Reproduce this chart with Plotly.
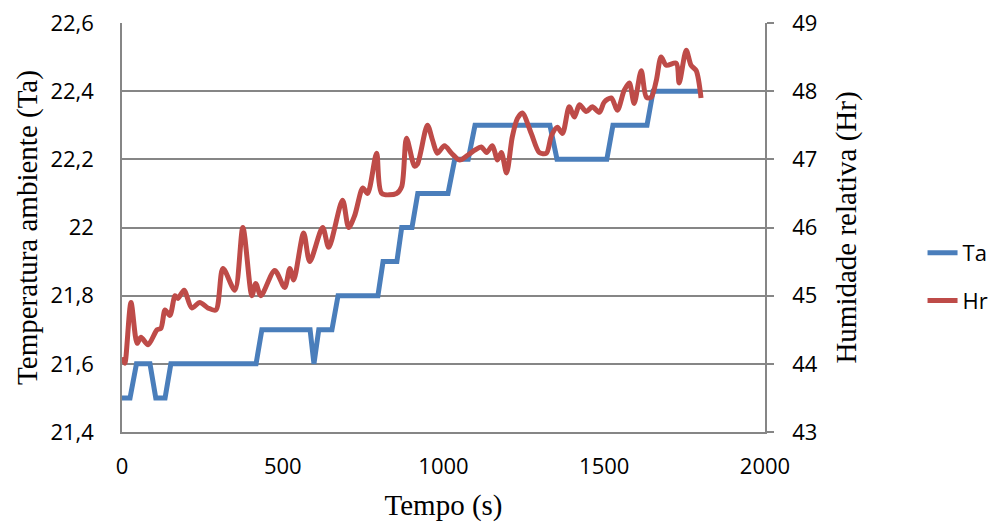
import plotly.graph_objects as go

# Temperature (Ta) samples: time (s) and value
ta_t = [0, 25, 45, 87, 105, 134, 152, 417, 435, 585, 597, 612, 653, 672, 796, 812,
        855, 870, 902, 920, 1014, 1035, 1077, 1098, 1331, 1353, 1508, 1527, 1633, 1652, 1804]
ta_v = [21.5, 21.5, 21.6, 21.6, 21.5, 21.5, 21.6, 21.6, 21.7, 21.7, 21.6, 21.7, 21.7, 21.8, 21.8, 21.9,
        21.9, 22.0, 22.0, 22.1, 22.1, 22.2, 22.2, 22.3, 22.3, 22.2, 22.2, 22.3, 22.3, 22.4, 22.4]

# Relative humidity (Hr) samples
hr_t = [3, 9, 28, 47, 59, 81, 109, 121, 134, 149, 165, 174, 193, 217, 242, 267, 292, 314, 351, 376,
        404, 416, 432, 475, 506, 522, 534, 565, 584, 624, 643, 686, 705, 724, 749, 764, 792, 808, 854,
        870, 885, 910, 919, 950, 966, 981, 1003, 1025, 1050, 1075, 1096, 1118, 1134, 1152, 1168, 1180,
        1196, 1214, 1230, 1245, 1273, 1298, 1320, 1336, 1354, 1370, 1391, 1407, 1423, 1444, 1463, 1485,
        1500, 1522, 1541, 1562, 1578, 1593, 1615, 1631, 1646, 1662, 1677, 1693, 1724, 1733, 1755, 1770,
        1786, 1801]
hr_v = [44.1, 44.01, 44.9, 44.3, 44.39, 44.28, 44.5, 44.52, 44.79, 44.71, 45.0, 44.96, 45.08, 44.82,
        44.9, 44.82, 44.79, 45.4, 45.08, 46.0, 45.0, 45.18, 45.0, 45.37, 45.12, 45.4, 45.23, 45.92, 45.5,
        46.0, 45.71, 46.4, 46.0, 46.18, 46.58, 46.5, 47.09, 46.5, 46.5, 46.6, 47.31, 46.9, 46.93, 47.5,
        47.28, 47.09, 47.2, 47.09, 46.99, 47.06, 47.13, 47.18, 47.1, 47.2, 46.99, 47.1, 46.8, 47.33,
        47.6, 47.68, 47.38, 47.1, 47.09, 47.35, 47.47, 47.38, 47.77, 47.62, 47.8, 47.7, 47.77, 47.69,
        47.84, 47.9, 47.72, 48.01, 48.12, 47.82, 48.3, 47.91, 47.91, 48.16, 48.5, 48.38, 48.41, 48.12,
        48.6, 48.38, 48.3, 47.9]

left_ticks = [21.4, 21.6, 21.8, 22.0, 22.2, 22.4, 22.6]
left_labels = ["21,4", "21,6", "21,8", "22", "22,2", "22,4", "22,6"]
right_ticks = [43, 44, 45, 46, 47, 48, 49]
x_ticks = [0, 500, 1000, 1500, 2000]

GRID = "#868686"
tick_font = dict(family="Open Sans, Liberation Sans, sans-serif", size=22, color="#000000")
title_font = dict(family="Liberation Serif, Times New Roman, serif", size=29, color="#000000")

fig = go.Figure()
fig.add_trace(go.Scatter(x=ta_t, y=ta_v, name="Ta", mode="lines", legendgroup="a",
                         line=dict(color="#4A7EBB", width=5), yaxis="y"))
fig.add_trace(go.Scatter(x=hr_t, y=hr_v, name="Hr", mode="lines", legendgroup="b",
                         line=dict(color="#BE4B48", width=5, shape="spline", smoothing=0.8),
                         yaxis="y2"))

fig.update_layout(
    width=991, height=522,
    margin=dict(l=122, r=226, t=23, b=90, autoexpand=False),
    paper_bgcolor="white", plot_bgcolor="white",
    showlegend=True,
    legend=dict(x=1.245, y=0.379, xanchor="left", yanchor="middle",
                font=dict(family="Open Sans, Liberation Sans, sans-serif", size=22, color="#000"),
                tracegroupgap=16, traceorder="grouped", bgcolor="rgba(0,0,0,0)"),
    xaxis=dict(range=[0, 2000], tickvals=x_ticks, showgrid=False, zeroline=False,
               showline=True, linecolor=GRID, linewidth=1.5, ticks="", automargin=False,
               ticklabelstandoff=14, tickfont=tick_font,
               title=dict(text="Tempo (s)", font=title_font, standoff=18)),
    yaxis=dict(range=[21.4, 22.6], tickvals=left_ticks, ticktext=left_labels,
               showgrid=True, gridcolor=GRID, gridwidth=1.5, zeroline=False,
               showline=True, linecolor=GRID, linewidth=1.5, ticks="", automargin=False,
               ticklabelstandoff=22, tickfont=tick_font,
               title=dict(text="Temperatura ambiente (Ta)", font=title_font, standoff=4)),
    yaxis2=dict(range=[43, 49], tickvals=right_ticks, overlaying="y", side="right",
                showgrid=False, zeroline=False, showline=True, linecolor=GRID, linewidth=1.5,
                ticks="outside", ticklen=7, tickcolor=GRID, tickwidth=1.5, automargin=False,
                ticklabelstandoff=14, tickfont=tick_font,
                title=dict(text="Humidade relativa (Hr)", font=title_font, standoff=19)),
)

fig.write_html("out.html")
